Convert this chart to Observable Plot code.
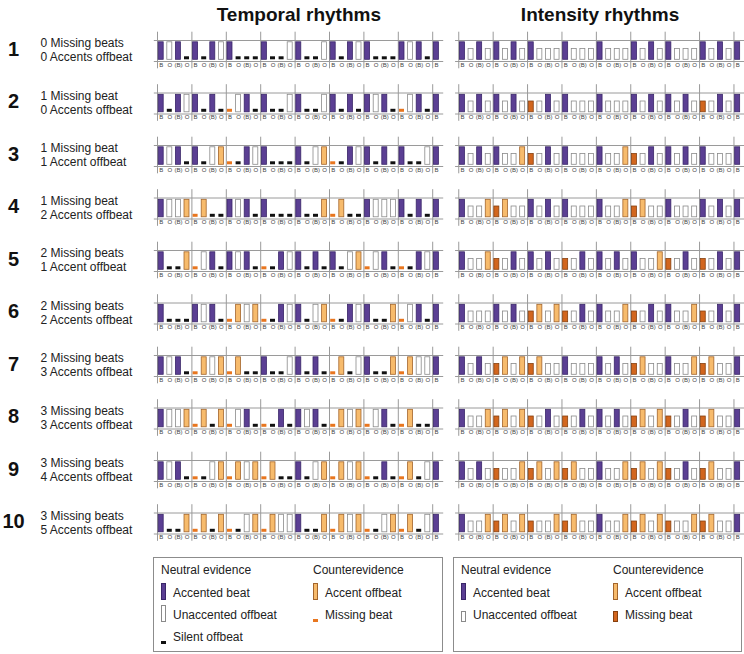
<!DOCTYPE html>
<html><head><meta charset="utf-8">
<script src="https://cdn.jsdelivr.net/npm/d3@7"></script>
<script src="https://cdn.jsdelivr.net/npm/@observablehq/plot@0.6"></script>
<style>
body{margin:0;background:#fff;font-family:"Liberation Sans",Arial,sans-serif;}
#wrap{position:relative;width:744px;height:654px;overflow:hidden;}
.legend{position:absolute;top:557px;height:95px;border:1px solid #8c8c8c;box-sizing:border-box;font-size:12px;color:#222;}
.item{position:absolute;white-space:nowrap;line-height:14px;}
.sw{position:absolute;width:5px;box-sizing:border-box;}
</style></head><body><div id="wrap"></div>
<script>
const panelTitles = ["Temporal rhythms", "Intensity rhythms"];
const rowNumbers = ["1","2","3","4","5","6","7","8","9","10"];
const missingLabels = ["0 Missing beats","1 Missing beat","1 Missing beat","1 Missing beat","2 Missing beats","2 Missing beats","2 Missing beats","3 Missing beats","3 Missing beats","3 Missing beats"];
const accentLabels = ["0 Accents offbeat","0 Accents offbeat","1 Accent offbeat","2 Accents offbeat","1 Accent offbeat","2 Accents offbeat","3 Accents offbeat","3 Accents offbeat","4 Accents offbeat","5 Accents offbeat"];
const tickLabels = ["B","O","(B)","O"];
// A accented beat, U unaccented offbeat, S silent offbeat, X accent offbeat, M missing beat
const temporalPatterns = [
 "AUAS ASAU ASSS ASSU ASSU ASAU ASSS AUAS A",
 "ASAU ASAS MUAS ASSU ASSU ASAS AUAS MUAS A",
 "AUAS ASUX MSAU ASSS ASUX MSAU ASAS ASSU A",
 "AUUX MXSS AUAS ASSS ASSX MXSS AUUU ASAS A",
 "ASSX MUAS AUAS MSAU ASAS ASUX MUAS MSAU A",
 "ASSS AUAS MXUX MSAU ASUX MSAU ASSX MUAS A",
 "AUAS MXUX MXSS ASSU ASAS MXSU ASSX MXUU A",
 "AUUX MXSX MUAS MSAS AUAS MXUX MUAS MXSS A",
 "AUAS MSUX MXUX MXSS ASUX MXUX MSAS MXSU A",
 "ASSX MXSX MSUX MXUU ASSX MXUX MSUX MXSU A"
];
const intensityPatterns = [
 "AUAU AUAU AUUU AUUU AUUU AUAU AUUU AUAU A",
 "AUAU AUAU MUAU AUUU AUUU AUAU AUAU MUAU A",
 "AUAU AUUX MUAU AUUU AUUX MUAU AUAU AUUU A",
 "AUUX MXUU AUAU AUUU AUUX MXUU AUUU AUAU A",
 "AUUX MUAU AUAU MUAU AUAU AUUX MUAU MUAU A",
 "AUUU AUAU MXUX MUAU AUUX MUAU AUUX MUAU A",
 "AUAU MXUX MXUU AUUU AUAU MXUU AUUX MXUU A",
 "AUUX MXUX MUAU MUAU AUAU MXUX MUAU MXUU A",
 "AUAU MUUX MXUX MXUU AUUX MXUX MUAU MXUU A",
 "AUUX MXUX MUUX MXUU AUUX MXUX MUUX MXUU A"
];

// styling (not data)
const PURPLE = "#5b3f93", PURPLE_S = "#3a2669";
const LIGHT = "#f7bb6c", LIGHT_S = "#a3652c";
const DARK = "#d2661e", DARK_S = "#86400f";
const styles = [
  {A:{h:17.5,fill:PURPLE,stroke:PURPLE_S}, U:{h:17.5,fill:"#fff",stroke:"#8a8a8a"}, S:{h:3,fill:"#111",stroke:"none"}, X:{h:17.5,fill:LIGHT,stroke:LIGHT_S}, M:{h:3,fill:"#e8761f",stroke:"none"}},
  {A:{h:17.5,fill:PURPLE,stroke:PURPLE_S}, U:{h:10.8,fill:"#fff",stroke:"#8a8a8a"}, X:{h:17.5,fill:LIGHT,stroke:LIGHT_S}, M:{h:10.8,fill:DARK,stroke:DARK_S}}
];
const RH = 52.5;          // px per row
const STEP = 8.6;         // px per beat position
const X0 = 160.7;         // px of first position
const OFF = [0, 35.03];   // panel offsets in beat units
const Y0 = 40;            // px of first row top line
const u = px => px / RH;

const cells = [];
[temporalPatterns, intensityPatterns].forEach((pats, p) => pats.forEach((s, r) => {
  s.replace(/\s/g, "").split("").forEach((c, i) => cells.push({panel: p, row: r, pos: i, code: c}));
}));

const frames = [];
const measureLines = [];
for (let p = 0; p < 2; p++) for (let r = 0; r < 10; r++) {
  frames.push({panel: p, row: r, edge: 0});
  frames.push({panel: p, row: r, edge: 21});
  for (let k = 0; k <= 8; k++) measureLines.push({panel: p, row: r, k});
}

const font = "Liberation Sans, Arial, sans-serif";
const chart = Plot.plot({
  width: 744, height: 654, margin: 0,
  style: {fontFamily: font, background: "transparent"},
  x: {domain: [-X0 / STEP, (744 - X0) / STEP], range: [0, 744], axis: null},
  y: {domain: [-Y0 / RH, (654 - Y0) / RH], range: [0, 654], axis: null},
  marks: [
    Plot.ruleY(frames, {y: d => d.row + u(d.edge), x1: d => OFF[d.panel] - 0.8, x2: d => OFF[d.panel] + 32.85, stroke: "#9a9a9a", strokeWidth: 1}),
    Plot.ruleX(measureLines, {x: d => OFF[d.panel] + 4 * d.k - 0.43, y1: d => d.row - u(8.3), y2: d => d.row + u(28.3), stroke: "#9a9a9a", strokeWidth: 1}),
    Plot.rect(cells, {
      x1: d => OFF[d.panel] + d.pos - 0.29, x2: d => OFF[d.panel] + d.pos + 0.29,
      y1: d => d.row + u(19.3 - styles[d.panel][d.code].h), y2: d => d.row + u(19.3),
      fill: d => styles[d.panel][d.code].fill, stroke: d => styles[d.panel][d.code].stroke, strokeWidth: 0.8
    }),
    Plot.text(cells, {x: d => OFF[d.panel] + d.pos, y: d => d.row + u(24.5), text: d => d.pos === 32 ? "B" : tickLabels[d.pos % 4], fontSize: 6, fill: "#444", lineAnchor: "middle"}),
    Plot.text(panelTitles, {x: (d, i) => OFF[i] + 16, y: u(-26), text: d => d, fontSize: 19, fontWeight: "bold", fill: "#111", lineAnchor: "middle"}),
    Plot.text(rowNumbers, {y: (d, i) => i + u(9), frameAnchor: "left", dx: 13, textAnchor: "middle", fontSize: 20, fontWeight: "bold", fill: "#111", lineAnchor: "middle"}),
    Plot.text(missingLabels, {y: (d, i) => i + u(3), frameAnchor: "left", dx: 40, textAnchor: "start", fontSize: 12, fill: "#222", lineAnchor: "middle"}),
    Plot.text(accentLabels, {y: (d, i) => i + u(17), frameAnchor: "left", dx: 40, textAnchor: "start", fontSize: 12, fill: "#222", lineAnchor: "middle"})
  ]
});
const wrap = document.getElementById("wrap");
wrap.appendChild(chart);

// legends
const legendLeft = {
  x: 153, w: 290,
  headers: ["Neutral evidence", "Counterevidence"],
  items: [
    {col: 0, row: 0, label: "Accented beat", h: 17, fill: PURPLE, stroke: PURPLE_S},
    {col: 0, row: 1, label: "Unaccented offbeat", h: 17, fill: "#fff", stroke: "#8a8a8a"},
    {col: 0, row: 2, label: "Silent offbeat", h: 3, fill: "#111", stroke: "#111"},
    {col: 1, row: 0, label: "Accent offbeat", h: 17, fill: LIGHT, stroke: LIGHT_S},
    {col: 1, row: 1, label: "Missing beat", h: 3, fill: "#e8761f", stroke: "#e8761f"}
  ]
};
const legendRight = {
  x: 453, w: 289,
  headers: ["Neutral evidence", "Counterevidence"],
  items: [
    {col: 0, row: 0, label: "Accented beat", h: 17, fill: PURPLE, stroke: PURPLE_S},
    {col: 0, row: 1, label: "Unaccented offbeat", h: 11, fill: "#fff", stroke: "#8a8a8a"},
    {col: 1, row: 0, label: "Accent offbeat", h: 17, fill: LIGHT, stroke: LIGHT_S},
    {col: 1, row: 1, label: "Missing beat", h: 11, fill: DARK, stroke: DARK_S}
  ]
};
const colX = [7, 159];
const rowY = [34, 56, 78]; // item center offsets in box
for (const L of [legendLeft, legendRight]) {
  const box = document.createElement("div");
  box.className = "legend";
  box.style.left = L.x + "px"; box.style.width = L.w + "px";
  L.headers.forEach((h, i) => {
    const t = document.createElement("div"); t.className = "item";
    t.textContent = h; t.style.left = colX[i] + "px"; t.style.top = (12 - 7) + "px";
    box.appendChild(t);
  });
  for (const it of L.items) {
    const cy = rowY[it.row];
    const s = document.createElement("div"); s.className = "sw";
    s.style.left = colX[it.col] + "px";
    s.style.top = (cy + 8 - it.h) + "px"; s.style.height = it.h + "px";
    s.style.background = it.fill; s.style.border = "0.8px solid " + it.stroke;
    box.appendChild(s);
    const t = document.createElement("div"); t.className = "item";
    t.textContent = it.label; t.style.left = (colX[it.col] + 12) + "px"; t.style.top = (cy - 7 + 1) + "px";
    box.appendChild(t);
  }
  wrap.appendChild(box);
}
</script></body></html>
